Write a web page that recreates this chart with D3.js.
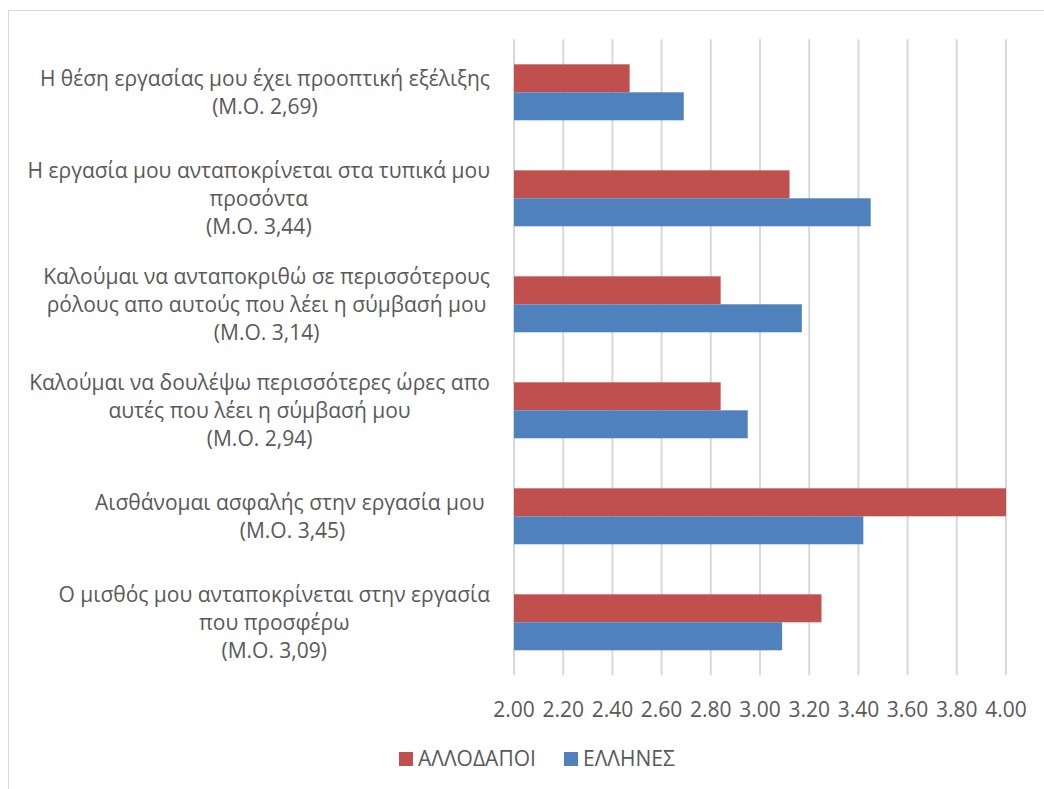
<!DOCTYPE html>
<html>
<head>
<meta charset="utf-8">
<script src="https://cdn.jsdelivr.net/npm/d3@7"></script>
<style>
  body { margin: 0; background: #fff; }
  svg text { font-family: "Open Sans", sans-serif; fill: #595959; font-size: 21px; }
</style>
</head>
<body>
<svg id="chart" width="1044" height="789"></svg>
<script>
// categories, top to bottom, already split into lines as in the original
const categories = [
  ["Η θέση εργασίας μου έχει προοπτική εξέλιξης", "(Μ.Ο. 2,69)"],
  ["Η εργασία μου ανταποκρίνεται στα τυπικά μου", "προσόντα", "(Μ.Ο. 3,44)"],
  ["Καλούμαι να ανταποκριθώ σε περισσότερους", "ρόλους απο αυτούς που λέει η σύμβασή μου", "(Μ.Ο. 3,14)"],
  ["Καλούμαι να δουλέψω περισσότερες ώρες απο", "αυτές που λέει η σύμβασή μου", "(Μ.Ο. 2,94)"],
  ["Αισθάνομαι ασφαλής στην εργασία μου\u00a0", "(Μ.Ο. 3,45)"],
  ["Ο μισθός μου ανταποκρίνεται στην εργασία", "που προσφέρω", "(Μ.Ο. 3,09)"]
];
const seriesNames = ["ΑΛΛΟΔΑΠΟΙ", "ΕΛΛΗΝΕΣ"];
const foreigners = [2.47, 3.12, 2.84, 2.84, 4.00, 3.25];
const greeks = [2.69, 3.45, 3.17, 2.95, 3.42, 3.09];
const xTicks = [2.0, 2.2, 2.4, 2.6, 2.8, 3.0, 3.2, 3.4, 3.6, 3.8, 4.0];
const colors = ["#C0504D", "#4F81BD"];

const svg = d3.select("#chart");

// outer chart frame (only top/left edges fall inside the picture)
svg.append("rect")
  .attr("x", 8.5).attr("y", 10.5)
  .attr("width", 1100).attr("height", 1000)
  .attr("fill", "none")
  .attr("stroke", "#d9d9d9");

const plot = {left: 514, right: 1006, top: 39.3, bottom: 675.3};

const x = d3.scaleLinear()
  .domain([2, 4])
  .range([plot.left, plot.right]);

const y = d3.scaleBand()
  .domain(d3.range(categories.length))
  .range([plot.top, plot.bottom])
  .paddingInner(0.472)
  .paddingOuter(0.236);

const ySub = d3.scaleBand()
  .domain(seriesNames)
  .range([0, y.bandwidth()]);

// gridlines (the one at 2.00 doubles as the category axis)
svg.append("g")
  .selectAll("line")
  .data(xTicks)
  .join("line")
  .attr("x1", d => x(d)).attr("x2", d => x(d))
  .attr("y1", plot.top).attr("y2", plot.bottom)
  .attr("stroke", "#d9d9d9")
  .attr("stroke-width", 2);

// tick labels
svg.append("g")
  .selectAll("text")
  .data(xTicks)
  .join("text")
  .attr("x", d => x(d))
  .attr("y", 710)
  .attr("dy", "0.35em")
  .attr("text-anchor", "middle")
  .text(d => d.toFixed(2));

// bars
const rows = categories.map((c, i) => ({i: i, vals: [foreigners[i], greeks[i]]}));

const groups = svg.append("g")
  .selectAll("g")
  .data(rows)
  .join("g")
  .attr("transform", d => `translate(0,${y(d.i)})`);

groups.selectAll("rect")
  .data(d => d.vals.map((v, k) => ({name: seriesNames[k], v: v, k: k})))
  .join("rect")
  .attr("x", x(2))
  .attr("y", d => ySub(d.name))
  .attr("width", d => x(d.v) - x(2))
  .attr("height", ySub.bandwidth())
  .attr("fill", d => colors[d.k]);

// category labels: lines centered inside a block whose right edge is at 490
const lineH = 28;
const labels = svg.append("g")
  .selectAll("g")
  .data(categories)
  .join("g");

labels.each(function(lines, i) {
  const g = d3.select(this);
  const cy = y(i) + y.bandwidth() / 2;
  const t = g.selectAll("text")
    .data(lines)
    .join("text")
    .attr("y", (d, j) => cy + (j - (lines.length - 1) / 2) * lineH)
    .attr("dy", "0.35em")
    .attr("text-anchor", "middle")
    .text(d => d);
  let maxW = 0;
  t.each(function() { maxW = Math.max(maxW, this.getComputedTextLength()); });
  t.attr("x", 490 - maxW / 2);
});

// legend
const legend = svg.append("g");
const legendX = [399, 564];
seriesNames.forEach((name, k) => {
  legend.append("rect")
    .attr("x", legendX[k]).attr("y", 752)
    .attr("width", 14).attr("height", 14)
    .attr("fill", colors[k]);
  legend.append("text")
    .attr("x", legendX[k] + 19).attr("y", 759)
    .attr("dy", "0.35em")
    .text(name);
});
</script>
</body>
</html>
